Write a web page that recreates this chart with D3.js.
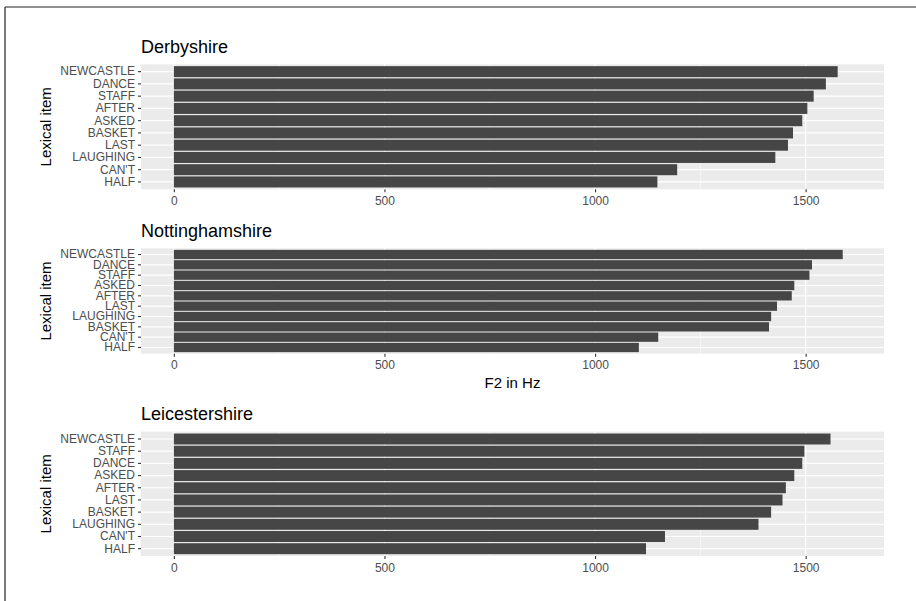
<!DOCTYPE html>
<html>
<head>
<meta charset="utf-8">
<script src="https://cdn.jsdelivr.net/npm/d3@7"></script>
<style>
  body { margin: 0; background: #fff; }
  svg { font-family: "Liberation Sans", Arial, sans-serif; }
</style>
</head>
<body>
<svg width="916" height="601"></svg>
<script>
// F2 (Hz) per lexical item, top to bottom as drawn in each panel
var derbyItems = ["NEWCASTLE", "DANCE", "STAFF", "AFTER", "ASKED", "BASKET", "LAST", "LAUGHING", "CAN'T", "HALF"];
var derbyValues = [1576, 1548, 1519, 1504, 1492, 1470, 1458, 1428, 1195, 1148];

var nottsItems = ["NEWCASTLE", "DANCE", "STAFF", "ASKED", "AFTER", "LAST", "LAUGHING", "BASKET", "CAN'T", "HALF"];
var nottsValues = [1588, 1515, 1509, 1473, 1467, 1432, 1418, 1413, 1150, 1104];

var leicsItems = ["NEWCASTLE", "STAFF", "DANCE", "ASKED", "AFTER", "LAST", "BASKET", "LAUGHING", "CAN'T", "HALF"];
var leicsValues = [1559, 1497, 1492, 1473, 1453, 1445, 1418, 1388, 1166, 1121];

var xTicks = [0, 500, 1000, 1500];
var xMinor = [250, 750, 1250];

var svg = d3.select("svg");

// outer frame (only top and left edges show in the picture)
svg.append("line").attr("x1", 5).attr("x2", 916).attr("y1", 7).attr("y2", 7)
    .attr("stroke", "#222").attr("stroke-width", 1.2);
svg.append("line").attr("x1", 5).attr("x2", 5).attr("y1", 7).attr("y2", 601)
    .attr("stroke", "#222").attr("stroke-width", 1.2);

var x = d3.scaleLinear().domain([-78, 1686]).range([141, 884]);

var panels = [
  {title: "Derbyshire", items: derbyItems, values: derbyValues, top: 64.3, bottom: 189.3, xlab: false},
  {title: "Nottinghamshire", items: nottsItems, values: nottsValues, top: 248.3, bottom: 353.7, xlab: true},
  {title: "Leicestershire", items: leicsItems, values: leicsValues, top: 431.7, bottom: 556, xlab: false}
];

panels.forEach(function(p) {
  var g = svg.append("g");

  // discrete scale with ggplot-like 0.6 expansion
  var unit = (p.bottom - p.top) / 10.2;
  var y = d3.scaleBand()
      .domain(p.items)
      .range([p.top + 0.1 * unit, p.bottom - 0.1 * unit])
      .paddingInner(0.1)
      .paddingOuter(0.05);

  g.append("rect")
      .attr("x", x.range()[0]).attr("y", p.top)
      .attr("width", x.range()[1] - x.range()[0])
      .attr("height", p.bottom - p.top)
      .attr("fill", "#ebebeb");

  g.selectAll(".minor").data(xMinor).enter().append("line")
      .attr("x1", function(d) { return x(d); }).attr("x2", function(d) { return x(d); })
      .attr("y1", p.top).attr("y2", p.bottom)
      .attr("stroke", "#fff").attr("stroke-width", 0.6);

  g.selectAll(".major").data(xTicks).enter().append("line")
      .attr("x1", function(d) { return x(d); }).attr("x2", function(d) { return x(d); })
      .attr("y1", p.top).attr("y2", p.bottom)
      .attr("stroke", "#fff").attr("stroke-width", 1.2);

  g.selectAll(".hgrid").data(p.items).enter().append("line")
      .attr("x1", x.range()[0]).attr("x2", x.range()[1])
      .attr("y1", function(d) { return y(d) + y.bandwidth() / 2; })
      .attr("y2", function(d) { return y(d) + y.bandwidth() / 2; })
      .attr("stroke", "#fff").attr("stroke-width", 1.2);

  g.selectAll(".bar").data(p.items).enter().append("rect")
      .attr("x", x(0))
      .attr("y", function(d) { return y(d); })
      .attr("width", function(d, i) { return x(p.values[i]) - x(0); })
      .attr("height", y.bandwidth())
      .attr("fill", "#464646");

  // y axis
  var yAxis = g.append("g")
      .attr("transform", "translate(" + x.range()[0] + ",0)")
      .call(d3.axisLeft(y).tickSize(3).tickPadding(3));
  yAxis.select(".domain").remove();
  yAxis.selectAll("line").attr("stroke", "#333").attr("stroke-width", 1.1);
  yAxis.selectAll("text").attr("fill", "#4d4d4d").style("font-size", "12px")
      .style("font-family", "Liberation Sans, Arial, sans-serif");

  // x axis
  var xAxis = g.append("g")
      .attr("transform", "translate(0," + p.bottom + ")")
      .call(d3.axisBottom(x).tickValues(xTicks).tickFormat(d3.format("d")).tickSize(3).tickPadding(4));
  xAxis.select(".domain").remove();
  xAxis.selectAll("line").attr("stroke", "#333").attr("stroke-width", 1.1);
  xAxis.selectAll("text").attr("fill", "#4d4d4d").style("font-size", "12px")
      .style("font-family", "Liberation Sans, Arial, sans-serif");

  g.append("text")
      .attr("x", x.range()[0])
      .attr("y", p.top - 11.5)
      .style("font-size", "18px")
      .attr("fill", "#000")
      .text(p.title);

  g.append("text")
      .attr("transform", "translate(50.5," + (p.top + p.bottom) / 2 + ") rotate(-90)")
      .attr("text-anchor", "middle")
      .style("font-size", "15px")
      .attr("fill", "#000")
      .text("Lexical item");

  if (p.xlab) {
    g.append("text")
        .attr("x", (x.range()[0] + x.range()[1]) / 2)
        .attr("y", p.bottom + 34)
        .attr("text-anchor", "middle")
        .style("font-size", "15px")
        .attr("fill", "#000")
        .text("F2 in Hz");
  }
});
</script>
</body>
</html>
